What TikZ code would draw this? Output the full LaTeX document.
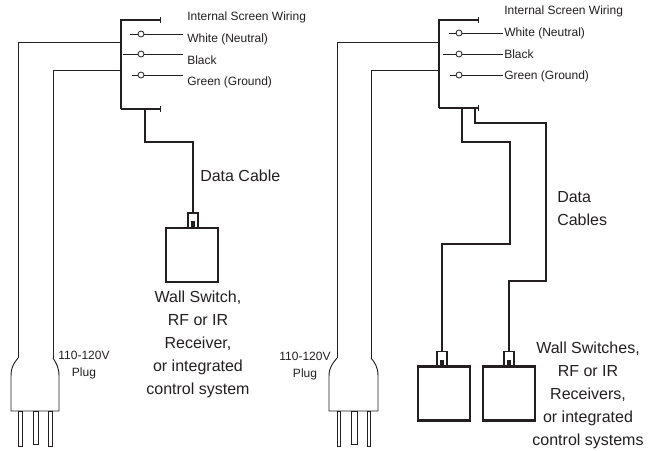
\documentclass[tikz,border=0pt]{standalone}
\usepackage{fontspec}
\setmainfont{Liberation Sans}
\usetikzlibrary{arrows.meta}

\definecolor{ink}{HTML}{231F20}
\tikzset{
    busline/.style={draw=ink,line width=1.9pt},
    stubline/.style={draw=ink,line width=1.9pt,-{Bar[width=4pt,line width=.7pt]}},
    cableline/.style={draw=ink,line width=1.6pt,line join=miter},
    wireline/.style={draw=ink,line width=.7pt},
    plugline/.style={draw=ink,line width=.7pt},
    conn/.style={circle,draw=ink,line width=.6pt,fill=white,inner sep=0pt,minimum size=4.5pt},
    smalllabel/.style={text=ink,inner sep=0pt,font=\fontsize{9}{12.8}\selectfont,align=center},
    biglabel/.style={text=ink,inner sep=0pt,font=\fontsize{12}{17.2}\selectfont,align=center},
    switchbox/.style={rectangle,draw=ink,line width=1.6pt,inner sep=0pt,minimum width=39pt,minimum height=40.5pt},
    jackbox/.style={rectangle,draw=ink,line width=1.1pt,inner sep=0pt,minimum width=7.5pt,minimum height=11pt},
    jackpin/.style={rectangle,fill=ink,inner sep=0pt,minimum width=3.2pt,minimum height=5pt}
}

\begin{document}
\begin{tikzpicture}[x=0.75pt,y=-0.75pt]
        \useasboundingbox (0,0) rectangle (656,450);

        % left diagram
        \coordinate (bartop1) at (121,20);
        \coordinate (barbot1) at (121,109);
        \coordinate (stubtop1) at (161,20);
        \coordinate (stubbot1) at (161,109);
        \coordinate (hot1) at (121,42);
        \coordinate (neutral1) at (121,70);
        \coordinate (hotbend1) at (18,42);
        \coordinate (neutralbend1) at (53,70);
        \coordinate (hotplug1) at (18,358);
        \coordinate (neutralplug1) at (53,358);
        \coordinate (tap1) at (145,109);
        \coordinate (bend1a) at (145,142);
        \coordinate (bend1b) at (193,142);

        \node [conn] (white1) at (141,34) {};
        \node [conn] (black1) at (141,54) {};
        \node [conn] (green1) at (141,75) {};
        \coordinate (whitestart1) at (130,34);
        \coordinate (blackstart1) at (123,54);
        \coordinate (greenstart1) at (132,75);
        \coordinate (whiteend1) at (183,34);
        \coordinate (blackend1) at (183,54);
        \coordinate (greenend1) at (183,75);

        \node [jackbox] (jack1) at (193,220.5) {};
        \node [jackpin] (pin1) at (193,224.5) {};
        \node [switchbox] (switch1) at (192,255) {};

        \begin{scope}[every node/.style={smalllabel,anchor=west}]
            \node (internal1) at (187,17) {Internal Screen Wiring};
            \node (whitetext1) at (187,39) {White (Neutral)};
            \node (blacktext1) at (187,60) {Black};
            \node (greentext1) at (187,82) {Green (Ground)};
        \end{scope}
        \node [smalllabel] (plugtext1) at (84,365.5) {110-120V\\Plug};
        \node [biglabel,anchor=west] (cabletext1) at (200,176) {Data Cable};
        \node [biglabel] (switchtext1) at (198,344.5) {Wall Switch,\\RF or IR\\Receiver,\\or integrated\\control system};

        \path [busline] (stubtop1) -- (bartop1) -- (barbot1);
        \path [stubline] (bartop1) -- (stubtop1);
        \path [stubline] (barbot1) -- (stubbot1);
        \path [wireline] (hot1) -- (hotbend1) -- (hotplug1);
        \path [wireline] (neutral1) -- (neutralbend1) -- (neutralplug1);
        \path [wireline] (whitestart1) -- (white1) -- (whiteend1);
        \path [wireline] (blackstart1) -- (black1) -- (blackend1);
        \path [wireline] (greenstart1) -- (green1) -- (greenend1);
        \path [cableline] (tap1) -- (bend1a) -- (bend1b) -- (jack1.north);

        \path [plugline] (hotplug1) .. controls (14,363) and (11,367) .. (11,376) -- (11,411) -- (59,411) -- (59,376) .. controls (59,367) and (56,363) .. (neutralplug1);
        \path [plugline] (18,411) rectangle (22,446);
        \path [plugline] (33,411) rectangle (38,444);
        \path [plugline] (48,411) rectangle (52,446);

        % right diagram
        \coordinate (bartop2) at (439,20);
        \coordinate (barbot2) at (439,108);
        \coordinate (stubtop2) at (479,20);
        \coordinate (stubbot2) at (479,108);
        \coordinate (hot2) at (439,42);
        \coordinate (neutral2) at (439,70);
        \coordinate (hotbend2) at (337,42);
        \coordinate (neutralbend2) at (371,70);
        \coordinate (hotplug2) at (337,358);
        \coordinate (neutralplug2) at (371,358);
        \coordinate (tap2a) at (462,108);
        \coordinate (bend2a) at (462,142);
        \coordinate (bend2b) at (510,142);
        \coordinate (bend2c) at (510,244);
        \coordinate (bend2d) at (442,244);
        \coordinate (tap2b) at (475,108);
        \coordinate (bend2e) at (475,123);
        \coordinate (bend2f) at (546,123);
        \coordinate (bend2g) at (546,281);
        \coordinate (bend2h) at (509,281);

        \node [conn] (white2) at (459,33) {};
        \node [conn] (black2) at (459,54) {};
        \node [conn] (green2) at (459,75) {};
        \coordinate (whitestart2) at (449,33);
        \coordinate (blackstart2) at (443,54);
        \coordinate (greenstart2) at (450,75);
        \coordinate (whiteend2) at (503,33);
        \coordinate (blackend2) at (503,54);
        \coordinate (greenend2) at (503,75);

        \node [jackbox] (jack2a) at (442,359) {};
        \node [jackpin] (pin2a) at (442,363) {};
        \node [switchbox] (switch2a) at (444,393.5) {};
        \node [jackbox] (jack2b) at (509,359) {};
        \node [jackpin] (pin2b) at (509,363) {};
        \node [switchbox] (switch2b) at (509,393.5) {};

        \begin{scope}[every node/.style={smalllabel,anchor=west}]
            \node (internal2) at (504,11) {Internal Screen Wiring};
            \node (whitetext2) at (504,33) {White (Neutral)};
            \node (blacktext2) at (504,54) {Black};
            \node (greentext2) at (504,76) {Green (Ground)};
        \end{scope}
        \node [smalllabel] (plugtext2) at (305,366) {110-120V\\Plug};
        \node [biglabel,align=left,anchor=west] (cabletext2) at (557,209) {Data\\Cables};
        \node [biglabel] (switchtext2) at (588,395) {Wall Switches,\\RF or IR\\Receivers,\\or integrated\\control systems};

        \path [busline] (stubtop2) -- (bartop2) -- (barbot2);
        \path [stubline] (bartop2) -- (stubtop2);
        \path [stubline] (barbot2) -- (stubbot2);
        \path [wireline] (hot2) -- (hotbend2) -- (hotplug2);
        \path [wireline] (neutral2) -- (neutralbend2) -- (neutralplug2);
        \path [wireline] (whitestart2) -- (white2) -- (whiteend2);
        \path [wireline] (blackstart2) -- (black2) -- (blackend2);
        \path [wireline] (greenstart2) -- (green2) -- (greenend2);
        \path [cableline] (tap2a) -- (bend2a) -- (bend2b) -- (bend2c) -- (bend2d) -- (jack2a.north);
        \path [cableline] (tap2b) -- (bend2e) -- (bend2f) -- (bend2g) -- (bend2h) -- (jack2b.north);

        \path [plugline] (hotplug2) .. controls (333,363) and (329,367) .. (329,376) -- (329,411) -- (378,411) -- (378,376) .. controls (378,367) and (375,363) .. (neutralplug2);
        \path [plugline] (337,411) rectangle (340,446);
        \path [plugline] (351,411) rectangle (357,444);
        \path [plugline] (367,411) rectangle (370,446);
    \end{tikzpicture}
\end{document}
